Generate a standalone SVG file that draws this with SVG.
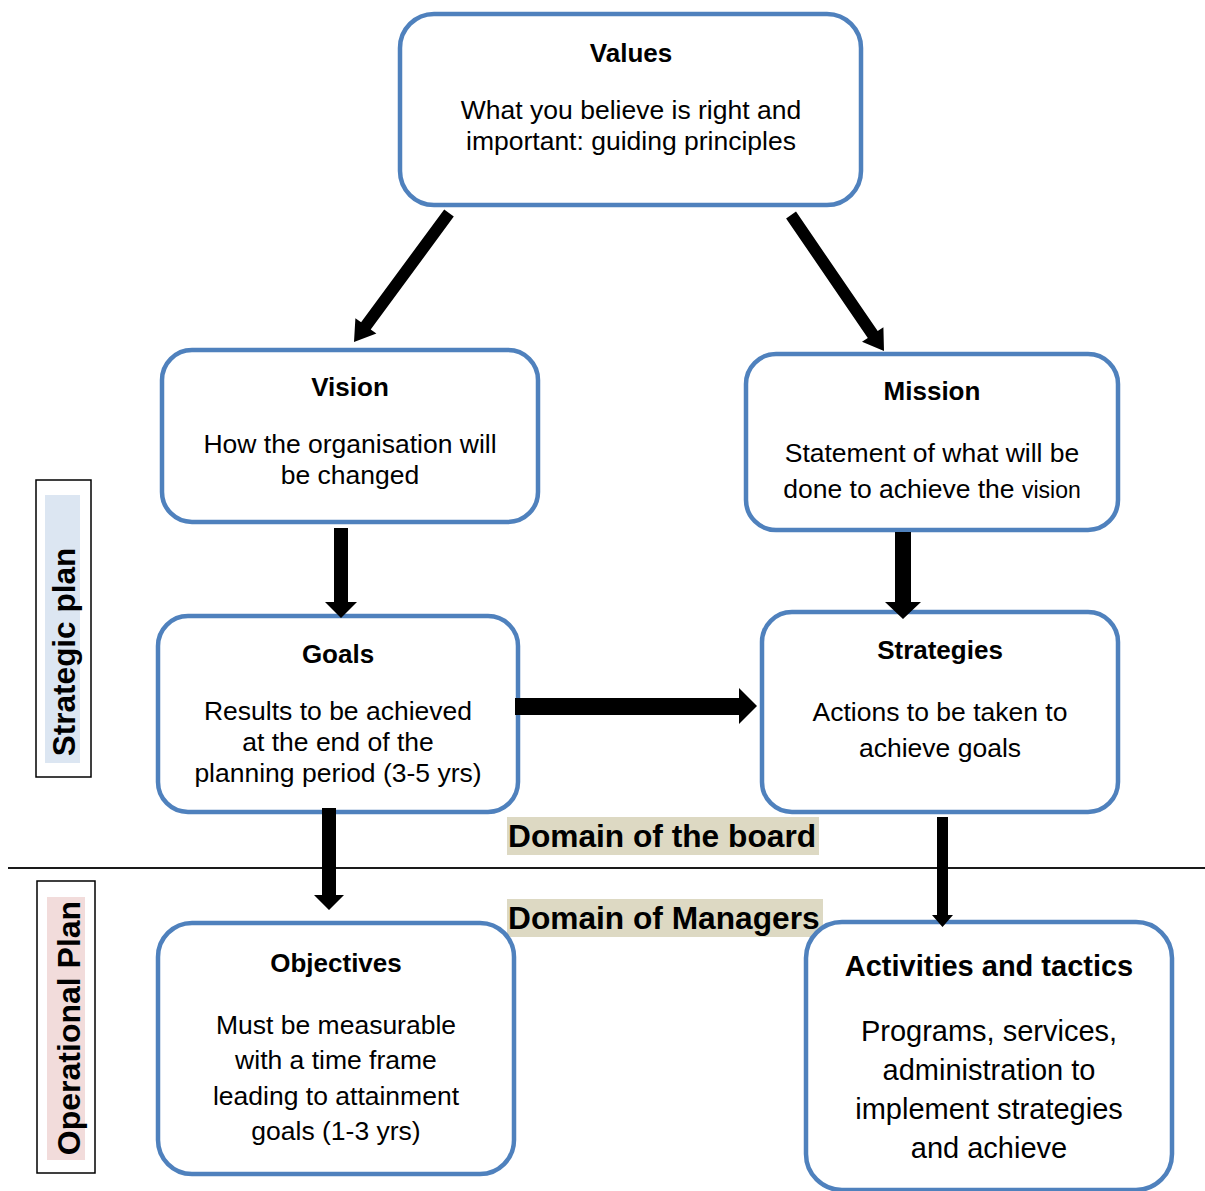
<svg xmlns="http://www.w3.org/2000/svg" width="1205" height="1191" viewBox="0 0 1205 1191">
  <style>
    .box { fill: #ffffff; stroke: #4f81bd; stroke-width: 4.5; }
    .t { font-family: "Liberation Sans", Arial, sans-serif; fill: #000000; text-anchor: middle; }
    .title { font-size: 26px; font-weight: bold; }
    .body { font-size: 26.5px; }
    .big { font-size: 29px; }
    .arrow { fill: #000000; }
    .side { font-family: "Liberation Sans", Arial, sans-serif; font-weight: bold; fill: #000000; text-anchor: middle; }
    .domain { font-family: "Liberation Sans", Arial, sans-serif; font-weight: bold; font-size: 31.7px; fill: #000000; }
  </style>
  <rect width="1205" height="1191" fill="#ffffff"/>

  <!-- board / managers divider -->
  <line x1="8" y1="868" x2="1205" y2="868" stroke="#1a1a1a" stroke-width="2"/>

  <!-- side labels -->
  <g id="strategic-plan">
    <rect x="36" y="480" width="55" height="297" fill="#ffffff" stroke="#000000" stroke-width="1.5"/>
    <rect x="45" y="495" width="35" height="268" fill="#dce6f2"/>
    <text class="side" font-size="31.5px" transform="translate(75,652) rotate(-90)">Strategic plan</text>
  </g>
  <g id="operational-plan">
    <rect x="37" y="881" width="58" height="292" fill="#ffffff" stroke="#000000" stroke-width="1.5"/>
    <rect x="47" y="897" width="38" height="263" fill="#f2dcdb"/>
    <text class="side" font-size="32px" transform="translate(80,1028) rotate(-90)">Operational Plan</text>
  </g>

  <!-- domain labels -->
  <g id="domain-board">
    <rect x="507" y="817" width="312" height="38" fill="#ddd9c3"/>
    <text class="domain" x="508" y="847">Domain of the board</text>
  </g>
  <g id="domain-managers">
    <rect x="507" y="899" width="316" height="38" fill="#ddd9c3"/>
    <text class="domain" x="508" y="929">Domain of Managers</text>
  </g>

  <g id="values">
    <rect class="box" x="400" y="14" width="461" height="191" rx="34"/>
    <text class="t title" x="631" y="62">Values</text>
    <text class="t body" x="631" y="119">What you believe is right and</text>
    <text class="t body" x="631" y="150">important: guiding principles</text>
  </g>

  <g id="vision">
    <rect class="box" x="162" y="350" width="376" height="172" rx="30"/>
    <text class="t title" x="350" y="396">Vision</text>
    <text class="t body" x="350" y="453">How the organisation will</text>
    <text class="t body" x="350" y="484">be changed</text>
  </g>

  <g id="mission">
    <rect class="box" x="746" y="354" width="372" height="176" rx="30"/>
    <text class="t title" x="932" y="400">Mission</text>
    <text class="t body" x="932" y="462">Statement of what will be</text>
    <text class="t body" x="932" y="498">done to achieve the <tspan font-size="23px">vision</tspan></text>
  </g>

  <g id="goals">
    <rect class="box" x="158" y="616" width="360" height="196" rx="30"/>
    <text class="t title" x="338" y="663">Goals</text>
    <text class="t body" x="338" y="720">Results to be achieved</text>
    <text class="t body" x="338" y="751">at the end of the</text>
    <text class="t body" x="338" y="782">planning period (3-5 yrs)</text>
  </g>

  <g id="strategies">
    <rect class="box" x="762" y="612" width="356" height="200" rx="30"/>
    <text class="t title" x="940" y="659">Strategies</text>
    <text class="t body" x="940" y="721">Actions to be taken to</text>
    <text class="t body" x="940" y="757">achieve goals</text>
  </g>

  <g id="objectives">
    <rect class="box" x="158" y="923" width="356" height="251" rx="34"/>
    <text class="t title" x="336" y="972">Objectives</text>
    <text class="t body" x="336" y="1034">Must be measurable</text>
    <text class="t body" x="336" y="1069">with a time frame</text>
    <text class="t body" x="336" y="1105">leading to attainment</text>
    <text class="t body" x="336" y="1140">goals (1-3 yrs)</text>
  </g>

  <g id="activities">
    <rect class="box" x="806" y="922" width="366" height="268" rx="36"/>
    <text class="t title big" x="989" y="976">Activities and tactics</text>
    <text class="t big" x="989" y="1041">Programs, services,</text>
    <text class="t big" x="989" y="1080">administration to</text>
    <text class="t big" x="989" y="1119">implement strategies</text>
    <text class="t big" x="989" y="1158">and achieve</text>
  </g>

  <!-- connectors, drawn over the box borders -->
  <g id="connectors">
    <!-- values to vision -->
    <polygon class="arrow" points="453.8,216.6 370.7,329.5 376.4,333.6 354,342 355.4,318.2 361.1,322.3 444.2,209.4"/>
    <!-- values to mission -->
    <polygon class="arrow" points="786.1,218.4 867.8,337.9 862.0,341.8 884,351 883.4,327.2 877.7,331.1 796.0,211.6"/>
    <!-- vision to goals -->
    <polygon class="arrow" points="334,528 348,528 348,602 357,602 341,618 325,602 334,602"/>
    <!-- mission to strategies -->
    <polygon class="arrow" points="895,532 911,532 911,602 921,602 903,619 885,602 895,602"/>
    <!-- goals to strategies -->
    <polygon class="arrow" points="515,698 739,698 739,688 757,706 739,724 739,715 515,715"/>
    <!-- strategies to activities -->
    <polygon class="arrow" points="937,817 948,817 948,915 953,915 942.5,927 932,915 937,915"/>
    <!-- goals to objectives -->
    <polygon class="arrow" points="322,808 336,808 336,895 344,895 329,910 314,895 322,895"/>
  </g>
</svg>
